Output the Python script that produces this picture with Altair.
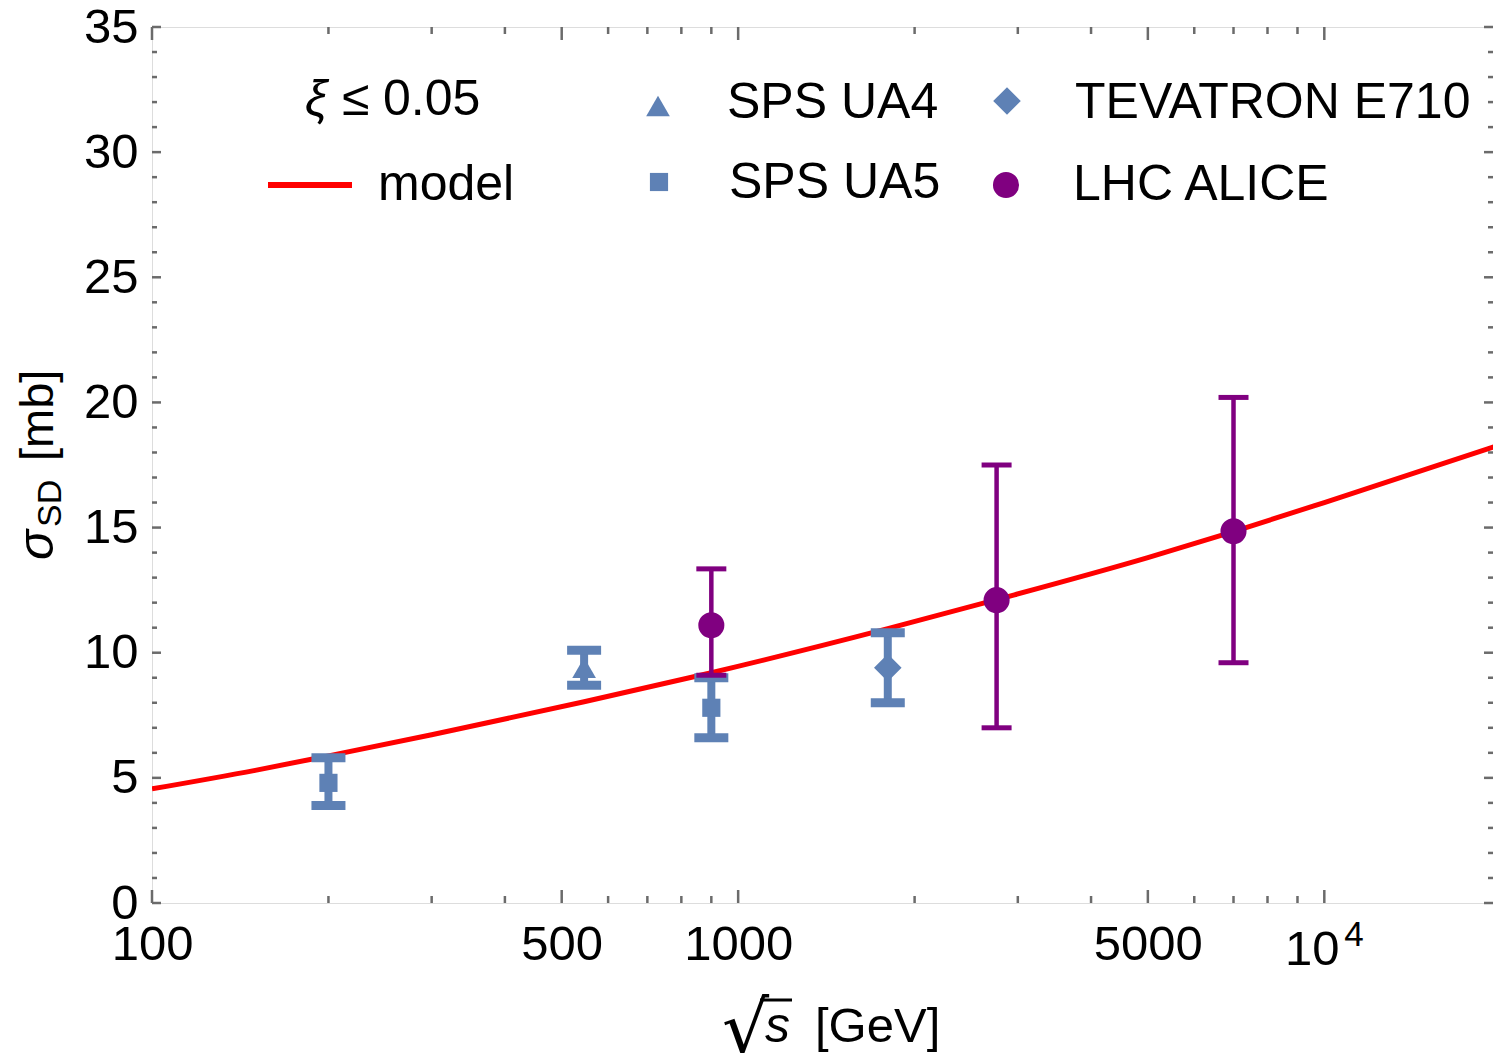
import altair as alt
import pandas as pd

# ---------------- data ----------------
model_E = [100, 150, 200, 300, 546, 900, 1800, 2760, 5000, 7000, 10000, 20000]
model_sigma = [4.56, 5.3, 5.88, 6.72, 8.04, 9.2, 10.96, 12.12, 13.8, 14.84, 16.0, 18.32]

blue_name = ["SPS UA5", "SPS UA4", "SPS UA5", "TEVATRON E710"]
blue_E = [200, 546, 900, 1800]
blue_sigma = [4.8, 9.4, 7.8, 9.4]
blue_lo = [3.9, 8.7, 6.6, 8.0]
blue_hi = [5.8, 10.1, 9.0, 10.8]

alice_E = [900, 2760, 7000]
alice_sigma = [11.1, 12.1, 14.85]
alice_lo = [9.1, 7.0, 9.6]
alice_hi = [13.35, 17.5, 20.2]

x_major = [100, 500, 1000, 5000, 10000]
x_minor = [200, 300, 400, 600, 700, 800, 900, 2000, 3000, 4000, 6000, 7000, 8000, 9000]
y_major = [0, 5, 10, 15, 20, 25, 30, 35]
y_minor = [v for v in range(0, 36) if v % 5 != 0]

legend_labels = ["SPS UA4", "SPS UA5", "TEVATRON E710", "LHC ALICE"]

# ---------------- style ----------------
W, H = 1341, 876
FONT = "Liberation Sans"
GRAY = "#6b6b6b"
BLUE = "#5E81B5"
PURPLE = "#800080"
RED = "#FF0000"
LFS = 50   # legend font size
AFS = 49   # axis label font size

xs = alt.Scale(type="log", domain=[100, 19400], nice=False)
ys = alt.Scale(domain=[0, 35], nice=False)

AX = alt.Axis(values=x_major, ticks=False, domain=False, grid=False,
              labelFontSize=AFS, labelFont=FONT, labelColor="black",
              labelPadding=17, title=None, labelFlush=False,
              labelExpr="datum.value == 10000 ? '' : format(datum.value, 'd')")
AY = alt.Axis(values=y_major, ticks=False, domain=False, grid=False,
              labelFontSize=AFS, labelFont=FONT, labelColor="black",
              labelPadding=14, title=None, labelFlush=False)

def X(f):
    return alt.X(f, scale=xs, axis=AX)

def Y(f):
    return alt.Y(f, scale=ys, axis=AY)

model_df = pd.DataFrame({"E": model_E, "s": model_sigma})
blue_df = pd.DataFrame({"name": blue_name, "E": blue_E, "s": blue_sigma,
                        "lo": blue_lo, "hi": blue_hi})
alice_df = pd.DataFrame({"E": alice_E, "s": alice_sigma, "lo": alice_lo, "hi": alice_hi})

line = alt.Chart(model_df).mark_line(color=RED, strokeWidth=5, interpolate="monotone", clip=True).encode(
    x=X("E:Q"), y=Y("s:Q"))

# blue error bars
blue_bar = alt.Chart(blue_df).mark_rule(color=BLUE, strokeWidth=8).encode(
    x=X("E:Q"), y=Y("lo:Q"), y2="hi:Q")
blue_cap_lo = alt.Chart(blue_df).mark_tick(color=BLUE, orient="horizontal", size=34, thickness=9, opacity=1).encode(
    x=X("E:Q"), y=Y("lo:Q"))
blue_cap_hi = alt.Chart(blue_df).mark_tick(color=BLUE, orient="horizontal", size=34, thickness=9, opacity=1).encode(
    x=X("E:Q"), y=Y("hi:Q"))

def blue_points(name, shape, size):
    return alt.Chart(blue_df).transform_filter(alt.datum.name == name).mark_point(
        filled=True, color=BLUE, opacity=1, shape=shape, size=size).encode(x=X("E:Q"), y=Y("s:Q"))

blue_pts = [
    blue_points("SPS UA4", "triangle-up", 560),
    blue_points("SPS UA5", "square", 330),
    blue_points("TEVATRON E710", "diamond", 760),
]

# purple error bars
alice_bar = alt.Chart(alice_df).mark_rule(color=PURPLE, strokeWidth=4.5).encode(
    x=X("E:Q"), y=Y("lo:Q"), y2="hi:Q")
alice_cap_lo = alt.Chart(alice_df).mark_tick(color=PURPLE, orient="horizontal", size=30, thickness=5, opacity=1).encode(
    x=X("E:Q"), y=Y("lo:Q"))
alice_cap_hi = alt.Chart(alice_df).mark_tick(color=PURPLE, orient="horizontal", size=30, thickness=5, opacity=1).encode(
    x=X("E:Q"), y=Y("hi:Q"))
alice_pts = alt.Chart(alice_df).mark_point(filled=True, color=PURPLE, opacity=1, size=680, shape="circle").encode(
    x=X("E:Q"), y=Y("s:Q"))

# frame ticks (inward)
def xticks(vals, length):
    df = pd.DataFrame({"E": vals})
    bot = alt.Chart(df).mark_rule(color=GRAY, strokeWidth=2.5).encode(
        x=X("E:Q"), y=alt.value(H), y2=alt.value(H - length))
    top = alt.Chart(df).mark_rule(color=GRAY, strokeWidth=2.5).encode(
        x=X("E:Q"), y=alt.value(0), y2=alt.value(length))
    return [bot, top]

def yticks(vals, length):
    df = pd.DataFrame({"s": vals})
    left = alt.Chart(df).mark_rule(color=GRAY, strokeWidth=2.5).encode(
        y=Y("s:Q"), x=alt.value(0), x2=alt.value(length))
    right = alt.Chart(df).mark_rule(color=GRAY, strokeWidth=2.5).encode(
        y=Y("s:Q"), x=alt.value(W), x2=alt.value(W - length))
    return [left, right]

ticks = xticks(x_major, 13) + xticks(x_minor, 7) + yticks(y_major, 9) + yticks(y_minor, 5)

# 10^4 label
e4 = pd.DataFrame({"E": [10000]})
lab10 = alt.Chart(e4).mark_text(text="10", fontSize=AFS, font=FONT, align="center", baseline="alphabetic",
                                dx=-12, color="black").encode(x=X("E:Q"), y=alt.value(H + 62))
lab4 = alt.Chart(e4).mark_text(text="4", fontSize=35, font=FONT, align="left", baseline="alphabetic",
                               dx=20, color="black").encode(x=X("E:Q"), y=alt.value(H + 43))

# text helper
def txt(t, x, y, size=47, style="normal", align="left", angle=0, font=FONT, baseline="alphabetic", weight="normal"):
    return alt.Chart(pd.DataFrame({"t": [t]})).mark_text(
        fontSize=size, font=font, fontStyle=style, fontWeight=weight, align=align, baseline=baseline,
        angle=angle, color="black").encode(x=alt.value(x), y=alt.value(y), text="t:N")

ytitle = [
    txt("σ", -99, 533, size=50, style="italic", angle=270),
    txt("SD", -91, 500, size=34, angle=270),
    txt("[mb]", -99, 434, size=47, angle=270),
]
xtitle = [
    txt("√", 570, 1027, size=74, font="DejaVu Sans"),
    txt("s", 613, 1015, size=50, style="italic"),
    txt("[GeV]", 663, 1015, size=49),
]
overline = alt.Chart(pd.DataFrame({"a": [0]})).mark_rule(color="black", strokeWidth=3).encode(
    x=alt.value(608), x2=alt.value(640), y=alt.value(973))

# legend
leg = [
    txt("ξ", 153, 88, size=LFS, style="italic"),
    txt("≤", 190, 88, size=LFS),
    txt("0.05", 231, 88, size=LFS),
    txt("model", 226, 173, size=LFS),
    txt(legend_labels[0], 575, 91, size=LFS),
    txt(legend_labels[1], 577, 171, size=LFS),
    txt(legend_labels[2], 923, 91, size=LFS),
    txt(legend_labels[3], 921, 173, size=LFS),
]
leg_line = alt.Chart(pd.DataFrame({"a": [0]})).mark_rule(color=RED, strokeWidth=6).encode(
    x=alt.value(116), x2=alt.value(200), y=alt.value(158))

def sym(shape, color, x, y, size):
    return alt.Chart(pd.DataFrame({"a": [0]})).mark_point(
        filled=True, opacity=1, color=color, shape=shape, size=size).encode(x=alt.value(x), y=alt.value(y))

leg_syms = [
    sym("triangle-up", BLUE, 506, 79, 560),
    sym("square", BLUE, 507, 155, 330),
    sym("diamond", BLUE, 855, 74, 760),
    sym("circle", PURPLE, 854, 158, 680),
]

chart = alt.layer(
    line, blue_bar, blue_cap_lo, blue_cap_hi, *blue_pts,
    alice_bar, alice_cap_lo, alice_cap_hi, alice_pts,
    *ticks, lab10, lab4, *ytitle, *xtitle, overline, *leg, leg_line, *leg_syms
).properties(
    width=W, height=H,
    autosize=alt.AutoSizeParams(type="none"),
    padding={"left": 144, "top": 19, "right": 0, "bottom": 150},
).configure_view(stroke=GRAY, strokeWidth=2.5).configure(background="white")

chart.save("out.html", embed_options={"renderer": "svg", "actions": False})
